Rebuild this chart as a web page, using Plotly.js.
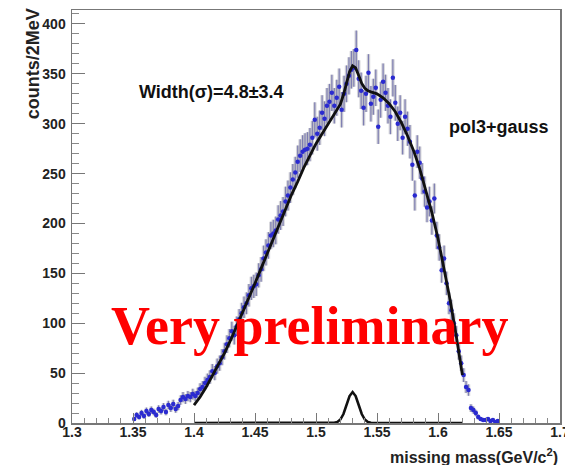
<!DOCTYPE html>
<html>
<head>
<meta charset="utf-8">
<script src="https://cdn.plot.ly/plotly-3.0.1.min.js"></script>
<style>html,body{margin:0;padding:0;background:#fff;}#chart{width:565px;height:465px;}</style>
</head>
<body>
<div id="chart"></div>
<script>
// Histogram: 2 MeV bins starting at 1.350 GeV/c^2
const binLow = 1.350;
const binWidth = 0.002;
const counts = [
  4, 8, 6, 10, 7, 12, 9, 13, 11, 8,
  14, 12, 16, 11, 18, 15, 19, 14, 17, 23,
  26, 24, 27, 26, 29, 27, 30, 34, 36, 40,
  43, 46, 52, 50, 57, 60, 66, 72, 79, 85,
  92, 88, 97, 104, 110, 116, 120, 128, 135, 137,
  139, 148, 154, 165, 171, 178, 188, 190, 193, 204,
  208, 212, 222, 228, 236, 244, 251, 262, 268, 272,
  274, 275, 279, 286, 304, 290, 296, 311, 305, 318,
  322, 331, 318, 326, 337, 314, 330, 340, 348, 354,
  356, 374, 345, 333, 316, 330, 351, 320, 327, 336,
  297, 324, 342, 331, 318, 307, 346, 321, 300, 311,
  286, 307, 295, 282, 259, 228, 272, 261, 245, 232,
  216, 222, 203, 225, 188, 176, 153, 165, 140, 120,
  113, 100, 88, 72, 60, 48, 36, 33, 15, 13,
  10, 6, 4, 3, 3, 4, 2, 3, 1, 2
];

// Fit curve: pol3 background and gaussian peak
const fitX = [1.400,1.405,1.410,1.415,1.420,1.425,1.430,1.435,1.440,1.445,
  1.450,1.455,1.460,1.465,1.470,1.475,1.480,1.485,1.490,1.495,
  1.500,1.505,1.510,1.5125,1.515,1.5175,1.520,1.5225,1.525,1.5275,
  1.530,1.5325,1.535,1.5375,1.540,1.5425,1.545,1.5475,1.550,1.555,
  1.560,1.565,1.570,1.575,1.580,1.585,1.590,1.595,1.600,1.605,
  1.610,1.615,1.620];
const bgY = [18,26,36,47,58,70,83,97,111,126,
  140,155,170,185,200,214,229,242,256,268,
  280,290,300,305,309,313,316,320,322.5,325,
  327,329,330.4,331.4,332,332.1,331.7,331,330,326,
  320,312,301,288,273,255,234,211,185,155,
  123,87,48];
const gaussY = [0,0,0,0,0,0,0,0,0,0,
  0,0,0,0,0,0,0,0,0,0,
  0,0,0,0,0.2,1,3.5,9,18,27,
  31,27,18,9,3.5,1,0.2,0,0,0,
  0,0,0,0,0,0,0,0,0,0,
  0,0,0];

const xTicks = [1.3,1.35,1.4,1.45,1.5,1.55,1.6,1.65,1.7];
const xTickText = ['1.3','1.35','1.4','1.45','1.5','1.55','1.6','1.65','1.7'];
const yTicks = [0,50,100,150,200,250,300,350,400];

const massX = counts.map((_, i) => binLow + binWidth * (i + 0.5));
const totalY = bgY.map((v, i) => v + gaussY[i]);

const traces = [
  {
    x: massX, y: counts, type: 'scatter', mode: 'markers',
    marker: {size: 1, color: 'rgba(0,0,0,0)'},
    error_y: {type: 'sqrt', visible: true, color: 'rgba(160,160,170,0.45)', thickness: 3.5, width: 0},
    hoverinfo: 'skip', showlegend: false
  },
  {
    x: massX, y: counts, type: 'scatter', mode: 'markers',
    marker: {size: 4.5, color: '#2a2ad0', line: {width: 0}},
    error_y: {type: 'sqrt', visible: true, color: 'rgba(110,110,170,0.85)', thickness: 1.2, width: 0},
    showlegend: false
  },
  {
    x: fitX, y: gaussY, type: 'scatter', mode: 'lines',
    line: {color: '#111', width: 2.6, shape: 'linear'},
    showlegend: false
  },
  {
    x: fitX, y: totalY, type: 'scatter', mode: 'lines',
    line: {color: '#111', width: 2.8, shape: 'linear'},
    showlegend: false
  }
];

const tickFont = {family: 'Liberation Sans, Arial, sans-serif', size: 14, color: '#222', weight: 'bold'};
const labelFont = {family: 'Liberation Sans, Arial, sans-serif', size: 16, color: '#222', weight: 'bold'};

const layout = {
  width: 565, height: 465,
  margin: {l: 72, r: 5, t: 10, b: 42},
  paper_bgcolor: '#fff', plot_bgcolor: '#fff',
  showlegend: false,
  xaxis: {
    range: [1.3, 1.7], tickvals: xTicks, ticktext: xTickText,
    ticks: 'inside', ticklen: 10, tickwidth: 1, tickcolor: '#777',
    minor: {ticks: 'inside', ticklen: 5, dtick: 0.01, tickcolor: '#888', tickwidth: 1},
    showgrid: false, zeroline: false,
    showline: true, linecolor: '#777', linewidth: 1.5, mirror: true,
    tickfont: tickFont, ticklabeloverflow: 'allow', ticklabelstandoff: -4
  },
  yaxis: {
    range: [0, 414], tickvals: yTicks,
    ticks: 'inside', ticklen: 13, tickwidth: 1, tickcolor: '#777',
    minor: {ticks: 'inside', ticklen: 7, dtick: 10, tickcolor: '#888', tickwidth: 1},
    showgrid: false, zeroline: false,
    showline: true, linecolor: '#777', linewidth: 1.5, mirror: true,
    tickfont: tickFont, ticklabelstandoff: 2
  },
  annotations: [
    {text: 'counts/2MeV', xref: 'paper', yref: 'paper', x: -0.08, y: 1.01,
     xanchor: 'center', yanchor: 'top', textangle: -90, showarrow: false,
     font: {family: 'Liberation Sans, Arial, sans-serif', size: 18, color: '#222', weight: 'bold'}},
    {text: 'missing mass(GeV/c<sup>2</sup>)', xref: 'paper', yref: 'paper', x: 1.0, y: -0.05,
     xanchor: 'right', yanchor: 'top', showarrow: false, font: labelFont},
    {text: 'Width(σ)=4.8±3.4', xref: 'paper', yref: 'paper', x: 0.133, y: 0.801,
     xanchor: 'left', yanchor: 'middle', showarrow: false,
     font: {family: 'Liberation Sans, Arial, sans-serif', size: 18, color: '#111', weight: 'bold'}},
    {text: 'pol3+gauss', xref: 'paper', yref: 'paper', x: 0.768, y: 0.717,
     xanchor: 'left', yanchor: 'middle', showarrow: false,
     font: {family: 'Liberation Sans, Arial, sans-serif', size: 18, color: '#111', weight: 'bold'}},
    {text: 'Very preliminary', xref: 'paper', yref: 'paper', x: 0.076, y: 0.235,
     xanchor: 'left', yanchor: 'middle', showarrow: false,
     font: {family: 'Liberation Serif, Times New Roman, serif', size: 54, color: '#ff0000', weight: 'bold'}}
  ]
};

Plotly.newPlot('chart', traces, layout, {staticPlot: true, displayModeBar: false});
</script>
</body>
</html>
